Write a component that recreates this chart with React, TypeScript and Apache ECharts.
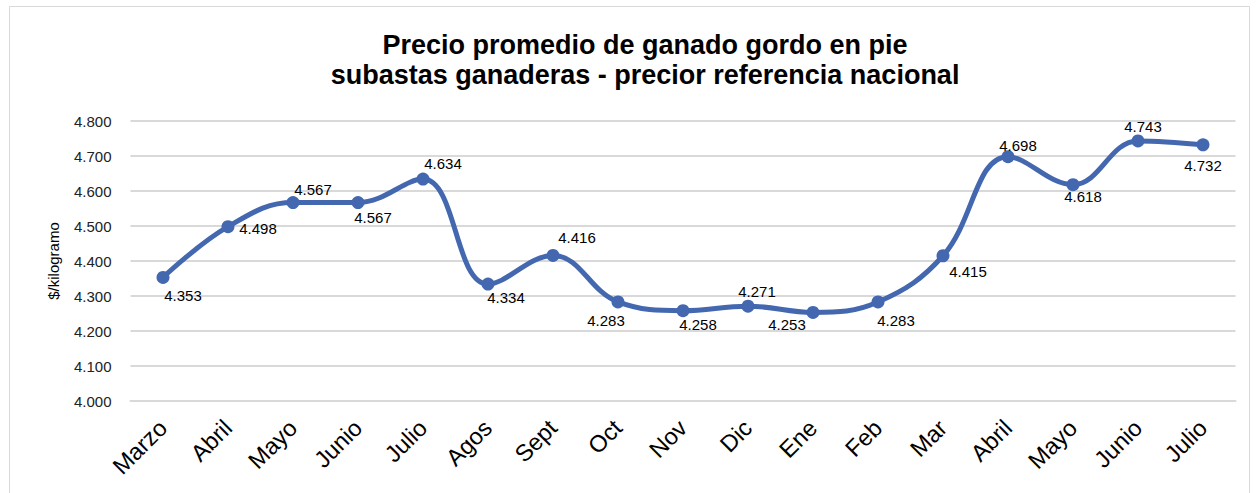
import React, { useEffect, useRef } from "react";
import * as echarts from "echarts";

const categories = ["Marzo", "Abril", "Mayo", "Junio", "Julio", "Agos", "Sept", "Oct", "Nov", "Dic", "Ene", "Feb", "Mar", "Abril", "Mayo", "Junio", "Julio"];
const prices = [4353, 4498, 4567, 4567, 4634, 4334, 4416, 4283, 4258, 4271, 4253, 4283, 4415, 4698, 4618, 4743, 4732];
const labelOffsets: [number, number][] = [
  [20, 18], [30, 2], [20, -13], [15, 15], [20, -16], [18, 13], [24, -18], [-12, 19], [15, 14],
  [9, -15], [-26, 12], [18, 19], [25, 16], [10, -11], [10, 12], [5, -14], [0, 21],
];

const fmt = (v: number) => {
  const s = Math.round(v).toString();
  return s.slice(0, s.length - 3) + "." + s.slice(-3);
};

export default function App() {
  const ref = useRef<HTMLDivElement>(null);
  useEffect(() => {
    document.body.style.margin = "0";
    const chart = echarts.init(ref.current!, null, { renderer: "svg" });
    chart.setOption({
      animation: false,
      backgroundColor: "#fff",
      textStyle: { fontFamily: "Liberation Sans, Arial, sans-serif" },
      title: {
        text: "Precio promedio de ganado gordo en pie\nsubastas ganaderas - precior referencia nacional",
        left: 640,
        textAlign: "center",
        top: 25,
        textStyle: { fontSize: 27, fontWeight: "bold", color: "#000", lineHeight: 30, fontFamily: "Liberation Sans, Arial, sans-serif" },
      },
      graphic: [
        {
          type: "rect",
          shape: { x: 9.5, y: 6.5, width: 1240, height: 500 },
          style: { fill: "none", stroke: "#d9d9d9", lineWidth: 1 },
          silent: true,
        },
      ],
      grid: { left: 130.5, right: 22.5, top: 121, bottom: 92, containLabel: false },
      xAxis: {
        type: "category",
        data: categories,
        boundaryGap: true,
        axisLine: { show: true, lineStyle: { color: "#d9d9d9", width: 2 } },
        axisTick: { show: false },
        axisLabel: { rotate: 45, fontSize: 23.5, color: "#000", margin: 23, interval: 0 },
      },
      yAxis: {
        type: "value",
        min: 4000,
        max: 4800,
        interval: 100,
        name: "$/kilogramo",
        nameLocation: "middle",
        nameGap: 70,
        nameTextStyle: { fontSize: 15, color: "#000" },
        axisLine: { show: false },
        axisTick: { show: false },
        splitLine: { lineStyle: { color: "#d9d9d9", width: 2 } },
        axisLabel: { fontSize: 15, color: "#222", margin: 19, formatter: (v: number) => fmt(v) },
      },
      series: [
        {
          type: "line",
          data: prices.map((v, i) => ({
            value: v,
            label: { offset: labelOffsets[i] },
          })),
          smooth: 0.4,
          symbol: "circle",
          symbolSize: 13,
          lineStyle: { color: "#4468B0", width: 5 },
          itemStyle: { color: "#4468B0" },
          label: {
            show: true,
            position: "inside",
            fontSize: 15,
            color: "#000",
            formatter: (p: any) => fmt(p.value),
          },
        },
      ],
    });
    return () => chart.dispose();
  }, []);
  return <div ref={ref} style={{ width: 1258, height: 493 }} />;
}
